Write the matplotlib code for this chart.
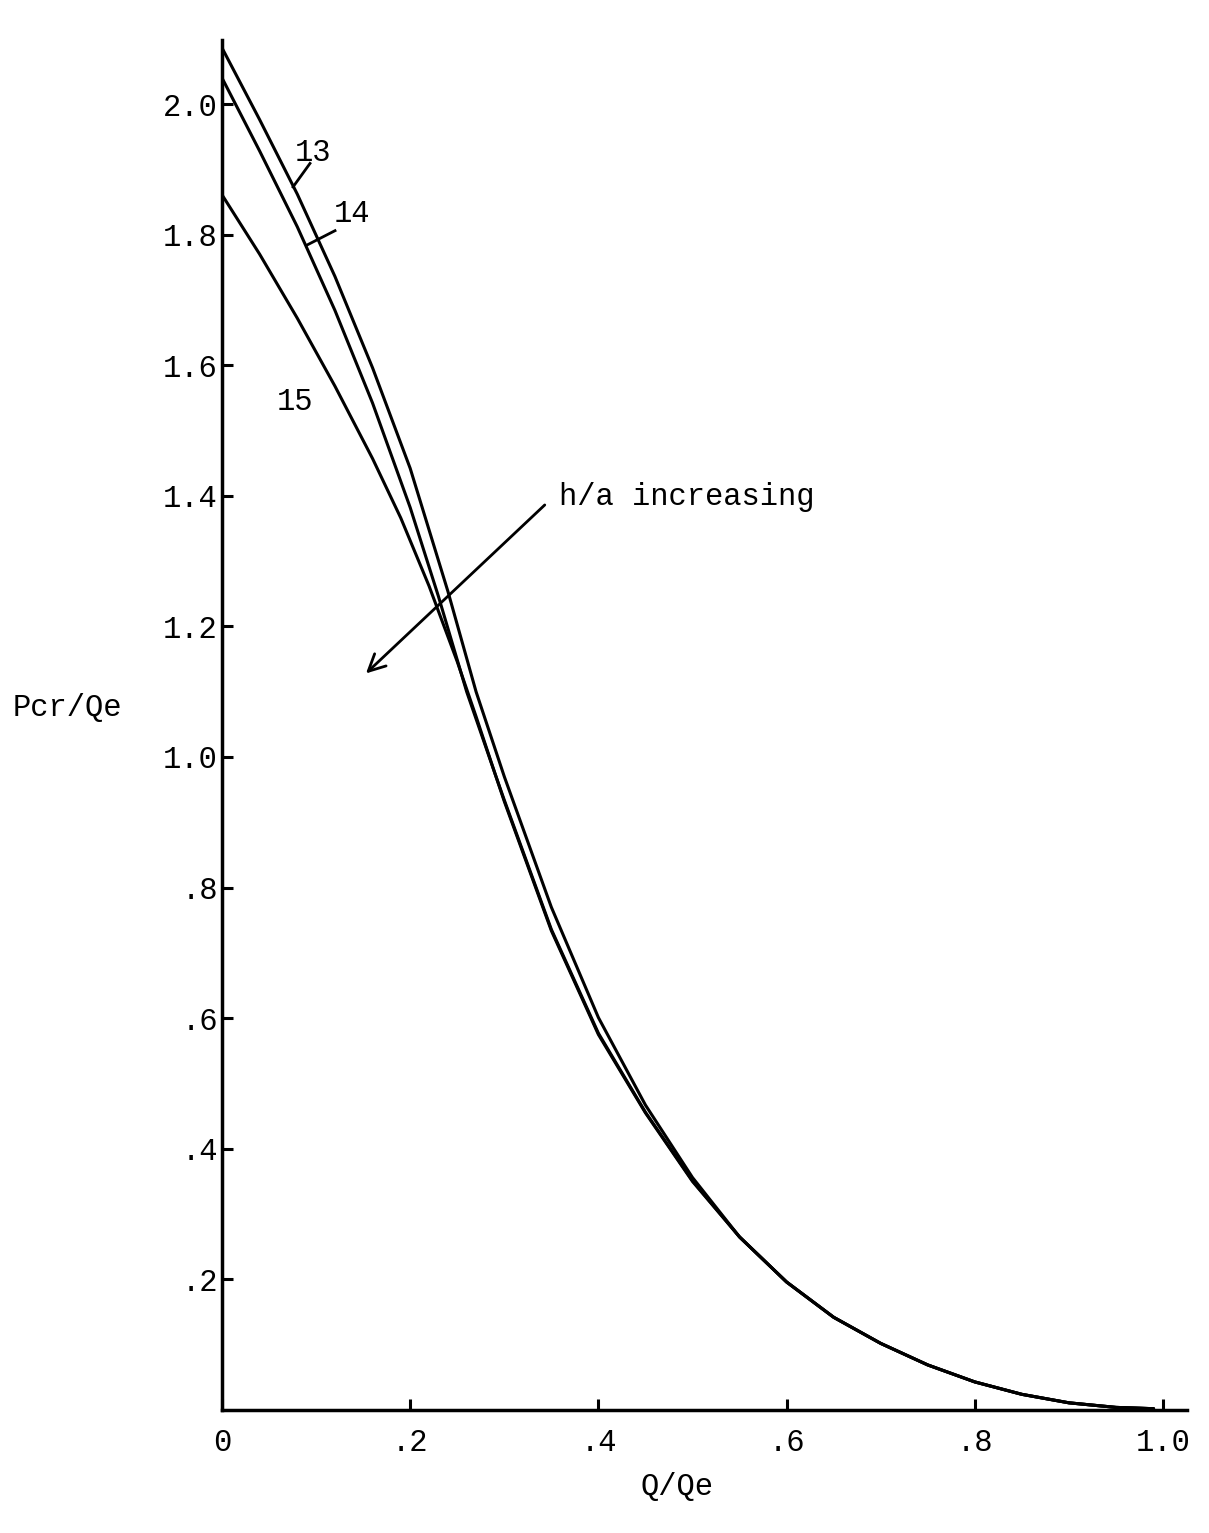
import matplotlib
matplotlib.use("Agg")
import matplotlib.pyplot as plt

# values (Q/Qe -> Pcr/Qe)
# the three curves merge into one tail at large Q/Qe
tail_x = [0.55, 0.60, 0.65, 0.70, 0.75, 0.80, 0.85, 0.90, 0.95, 0.99]
tail_y = [0.265, 0.196, 0.142, 0.102, 0.069, 0.043, 0.024, 0.011, 0.004, 0.002]

x13 = [0.0, 0.04, 0.08, 0.12, 0.16, 0.20, 0.24, 0.27, 0.30, 0.35, 0.40, 0.45, 0.50]
y13 = [2.086, 1.976, 1.862, 1.736, 1.596, 1.442, 1.254, 1.100, 0.970, 0.770, 0.601, 0.467, 0.356]

x14 = [0.0, 0.04, 0.08, 0.12, 0.16, 0.20, 0.23, 0.26, 0.29, 0.30, 0.35, 0.40, 0.45, 0.50]
y14 = [2.040, 1.928, 1.812, 1.684, 1.542, 1.382, 1.246, 1.100, 0.975, 0.934, 0.736, 0.577, 0.456, 0.351]

x15 = [0.0, 0.04, 0.08, 0.12, 0.16, 0.19, 0.22, 0.25, 0.27, 0.29, 0.30, 0.35, 0.40, 0.45, 0.50]
y15 = [1.861, 1.770, 1.672, 1.568, 1.457, 1.366, 1.262, 1.146, 1.062, 0.975, 0.932, 0.734, 0.575, 0.455, 0.350]

xticks = [0, 0.2, 0.4, 0.6, 0.8, 1.0]
xticklabels = ["0", ".2", ".4", ".6", ".8", "1.0"]
yticks = [0.2, 0.4, 0.6, 0.8, 1.0, 1.2, 1.4, 1.6, 1.8, 2.0]
yticklabels = [".2", ".4", ".6", ".8", "1.0", "1.2", "1.4", "1.6", "1.8", "2.0"]

plt.rcParams['font.family'] = ['Liberation Mono', 'DejaVu Sans Mono']
fs = 22

fig = plt.figure(figsize=(12.09, 15.33), dpi=100)
ax = fig.add_axes([222/1209, 1 - 1410/1533, (1187-222)/1209, (1410-40)/1533])

for xs, ys in [(x13, y13), (x14, y14), (x15, y15)]:
    ax.plot(xs + tail_x, ys + tail_y, color='black', lw=2.2,
            solid_capstyle='round', solid_joinstyle='round')

ax.set_xlim(0, (1187-222)/941)
ax.set_ylim(0, (1410-40)/653)

for s in ['top', 'right']:
    ax.spines[s].set_visible(False)
for s in ['left', 'bottom']:
    ax.spines[s].set_linewidth(2.5)

ax.set_xticks(xticks)
ax.set_xticklabels(xticklabels)
ax.set_yticks(yticks)
ax.set_yticklabels(yticklabels)
ax.tick_params(axis='both', direction='in', length=8, width=2.2, labelsize=fs)
ax.tick_params(axis='x', pad=13)
ax.tick_params(axis='y', pad=3)

# curve labels with leader lines
ax.text(0.097, 1.925, "13", fontsize=fs, ha='center', va='center')
ax.plot([0.0755, 0.0935], [1.873, 1.909], color='black', lw=2)
ax.text(0.138, 1.832, "14", fontsize=fs, ha='center', va='center')
ax.plot([0.0903, 0.1201], [1.784, 1.806], color='black', lw=2)
ax.text(0.078, 1.544, "15", fontsize=fs, ha='center', va='center')

ax.annotate("", xy=(0.153, 1.128), xytext=(0.343, 1.386),
            arrowprops=dict(arrowstyle='->', lw=2, color='black',
                            mutation_scale=30, shrinkA=0, shrinkB=0))
ax.text(0.358, 1.398, "h/a increasing", fontsize=fs, ha='left', va='center')

fig.text(677/1209, 1 - 1487/1533, "Q/Qe", fontsize=fs, ha='center', va='center')
fig.text(67/1209, 1 - 708/1533, "Pcr/Qe", fontsize=fs, ha='center', va='center')

fig.savefig("out.png", dpi=100)
